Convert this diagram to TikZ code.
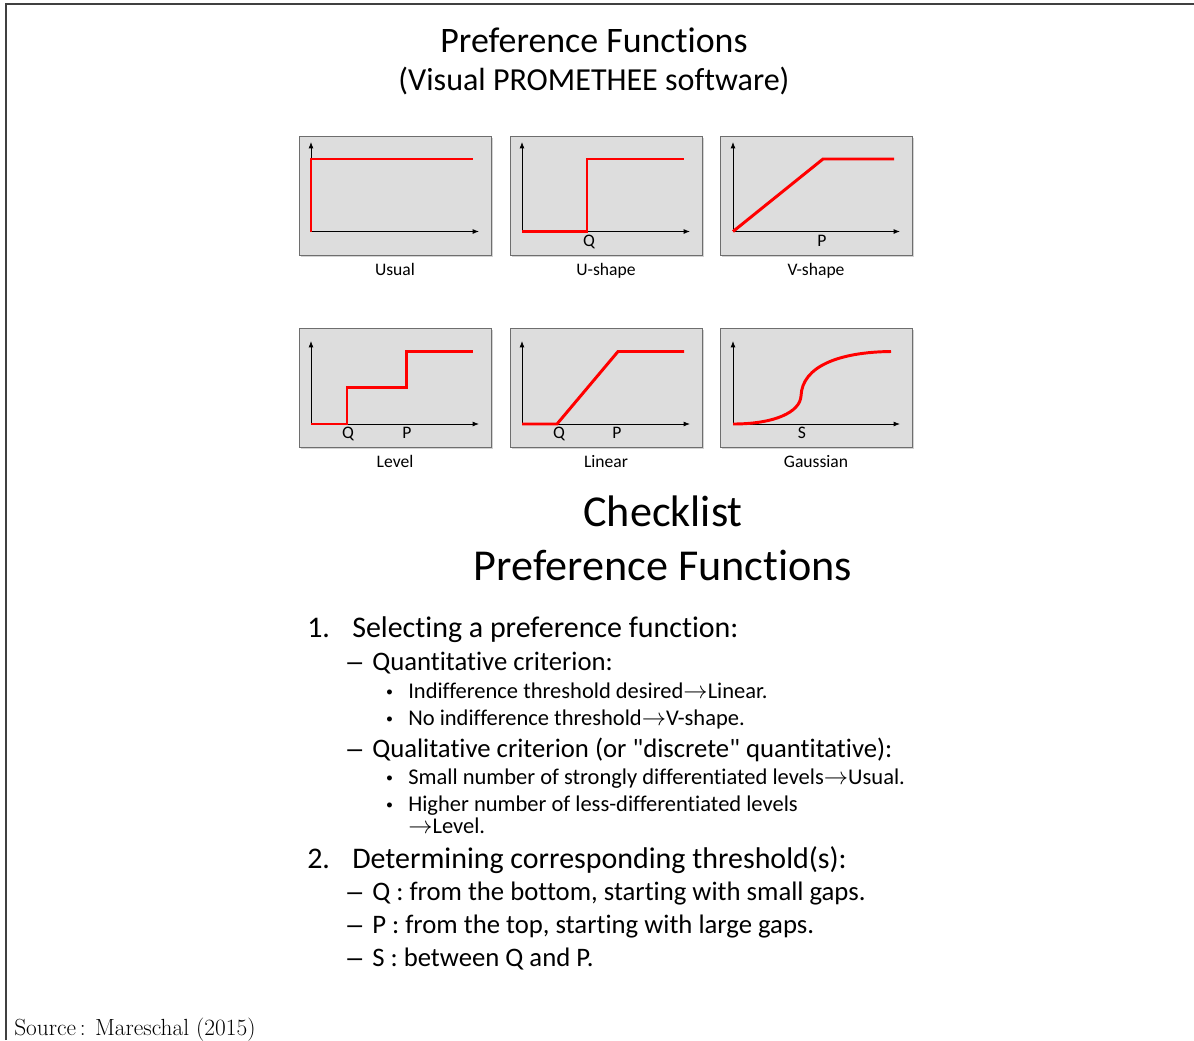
\documentclass[tikz,border=0pt]{standalone}
\usepackage{fontspec}
\newfontfamily\calibri[Ligatures=NoCommon]{Carlito}
\newfontfamily\arial{Liberation Sans}
\usetikzlibrary{arrows.meta, shadows}
\definecolor{panelgray}{RGB}{221,221,221}
\definecolor{panelline}{RGB}{110,110,110}
\definecolor{frameline}{RGB}{64,64,64}

\begin{document}
\begin{tikzpicture}[
  x=0.025cm, y=-0.025cm,
  panel/.style={draw=panelline, fill=panelgray, line width=0.6pt,
                minimum width=4.8cm, minimum height=2.975cm, inner sep=0pt,
                drop shadow={shadow xshift=1.3pt, shadow yshift=-1.3pt,
                             opacity=0.35}},
  axis/.style={-{Latex[length=4.5pt, width=3.5pt]}, line width=0.6pt},
  curve/.style={red, line width=2.1pt},
  small/.style={font=\calibri\fontsize{12.5}{14}\selectfont, inner sep=0pt,
                anchor=base},
  head/.style={font=\calibri\fontsize{25.5}{28}\selectfont, inner sep=0pt},
  subhead/.style={font=\calibri\fontsize{22.8}{26}\selectfont, inner sep=0pt},
  bighead/.style={font=\calibri\fontsize{31.4}{36}\selectfont, inner sep=0pt},
  lvlone/.style={font=\calibri\fontsize{21.3}{25}\selectfont, inner sep=0pt,
                 anchor=base west},
  lvltwo/.style={font=\calibri\fontsize{19}{22}\selectfont, inner sep=0pt,
                 anchor=base west},
  lvlthree/.style={font=\calibri\fontsize{16}{19}\selectfont, inner sep=0pt,
                   anchor=base west},
  endash/.style={font=\arial\fontsize{19}{22}\selectfont, inner sep=0pt,
                 anchor=base west},
  dot/.style={font=\arial\fontsize{13}{15}\selectfont, inner sep=0pt,
              anchor=base west},
  src/.style={font=\fontsize{16.6}{18}\selectfont, inner sep=0pt,
              anchor=base west}
]
\useasboundingbox (0,0) rectangle (1194,1040);
\draw[frameline, line width=1.4pt] (6,1040) -- (6,4) -- (1194,4);

\node[head]    (title)    at (594, 40) {Preference Functions};
\node[subhead] (subtitle) at (594, 81) {(Visual PROMETHEE software)};

\node[panel] (usual)  at (395, 195.5) {};
\node[panel] (ushape) at (606, 195.5) {};
\node[panel] (vshape) at (816, 195.5) {};
\node[panel] (level)  at (395, 387.5) {};
\node[panel] (linear) at (606, 387.5) {};
\node[panel] (gauss)  at (816, 387.5) {};

\draw[axis] (311,231.5) -- (311,142);
\draw[axis] (311,231.5) -- (479,231.5);
\draw[axis] (522,231.5) -- (522,142);
\draw[axis] (522,231.5) -- (690,231.5);
\draw[axis] (733,231.5) -- (733,142);
\draw[axis] (733,231.5) -- (900,231.5);
\draw[axis] (311,424) -- (311,341);
\draw[axis] (311,424) -- (479,424);
\draw[axis] (522,424) -- (522,341);
\draw[axis] (522,424) -- (690,424);
\draw[axis] (733,424) -- (733,341);
\draw[axis] (733,424) -- (900,424);

\draw[curve] (311,231.5) -- (311,159) -- (473,159);
\draw[curve] (522,231.5) -- (587,231.5) -- (587,159) -- (684,159);
\draw[curve] (733,231.5) -- (823,159) -- (894,159);
\draw[curve] (311,424) -- (347,424) -- (347,387.5) -- (406.5,387.5)
             -- (406.5,351.5) -- (473,351.5);
\draw[curve] (522,424) -- (557,424) -- (618,351.5) -- (684,351.5);
\draw[curve] (733,424) .. controls (775,424) and (800,412) .. (801,396)
             .. controls (802,366) and (840,352) .. (891,351.5);

\node[small] (uq)  at (589, 246) {Q};
\node[small] (vp)  at (822, 246) {P};
\node[small] (lq)  at (348, 438.5) {Q};
\node[small] (lp)  at (407, 438.5) {P};
\node[small] (nq)  at (559, 438.5) {Q};
\node[small] (np)  at (617, 438.5) {P};
\node[small] (gs)  at (802, 438.5) {S};

\node[small] (usuallbl)  at (395, 275.5) {Usual};
\node[small] (ushapelbl) at (606, 275.5) {U-shape};
\node[small] (vshapelbl) at (816, 275.5) {V-shape};
\node[small] (levellbl)  at (395, 467.5) {Level};
\node[small] (linearlbl) at (606, 467.5) {Linear};
\node[small] (gausslbl)  at (816, 467.5) {Gaussian};

\node[bighead] (check)    at (663, 511) {Checklist};
\node[bighead] (checksub) at (663, 565) {Preference Functions};

\node[lvlone] (n1) at (307, 637) {1.};
\node[lvlone] (i1) at (352, 637) {Selecting a preference function:};
\node[endash] (d1) at (347, 670) {–};
\node[lvltwo] (quant) at (372, 670) {Quantitative criterion:};
\node[dot] (b1) at (386, 698) {•};
\node[lvlthree] (indiff) at (408, 698) {Indifference threshold desired$\rightarrow$Linear.};
\node[dot] (b2) at (386, 725) {•};
\node[lvlthree] (noindiff) at (408, 725) {No indifference threshold$\rightarrow$V-shape.};
\node[endash] (d2) at (347, 757) {–};
\node[lvltwo] (qual) at (372, 757) {Qualitative criterion (or "discrete" quantitative):};
\node[dot] (b3) at (386, 784) {•};
\node[lvlthree] (strong) at (408, 784) {Small number of strongly differentiated levels$\rightarrow$Usual.};
\node[dot] (b4) at (386, 811) {•};
\node[lvlthree] (higher) at (408, 811) {Higher number of less-differentiated levels};
\node[lvlthree] (higher2) at (408, 833) {$\rightarrow$Level.};
\node[lvlone] (n2) at (307, 868) {2.};
\node[lvlone] (i2) at (352, 868) {Determining corresponding threshold(s):};
\node[endash] (d3) at (347, 900) {–};
\node[lvltwo] (qthr) at (372, 900) {Q : from the bottom, starting with small gaps.};
\node[endash] (d4) at (347, 933) {–};
\node[lvltwo] (pthr) at (372, 933) {P : from the top, starting with large gaps.};
\node[endash] (d5) at (347, 966) {–};
\node[lvltwo] (sthr) at (372, 966) {S : between Q and P.};

\node[src] (source) at (14, 1035) {Source\,:\hspace{0.4em}Mareschal (2015)};
\end{tikzpicture}
\end{document}
